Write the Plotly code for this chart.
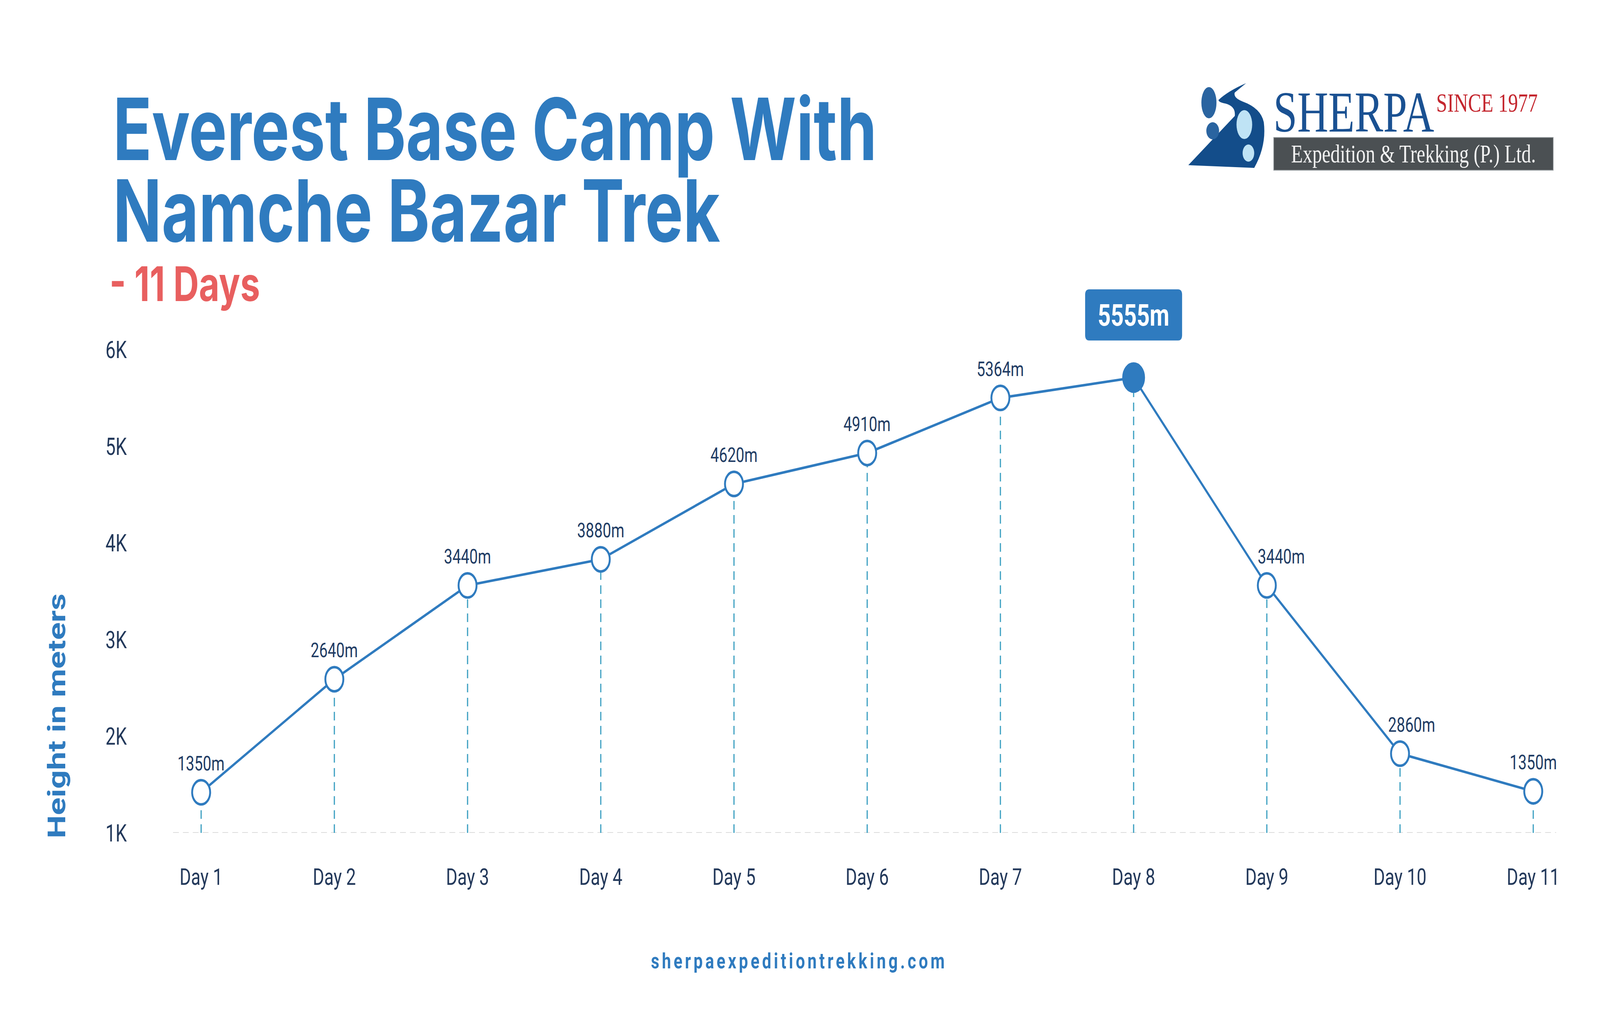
import plotly.graph_objects as go

# chart data
days = ["Day 1", "Day 2", "Day 3", "Day 4", "Day 5", "Day 6",
        "Day 7", "Day 8", "Day 9", "Day 10", "Day 11"]
heights = [1420, 2590, 3560, 3830, 4610, 4930, 5500, 5710, 3560, 1820, 1430]
height_labels = ["1350m", "2640m", "3440m", "3880m", "4620m", "4910m",
                 "5364m", "5555m", "3440m", "2860m", "1350m"]
y_ticks = [1000, 2000, 3000, 4000, 5000, 6000]
y_tick_labels = ["1K", "2K", "3K", "4K", "5K", "6K"]

BLUE = "#2f7bbf"
NAVY = "#1f3c64"
TICK = "#23395b"
DROP = "#3a9fc1"
LOGO_BLUE = "#134d8a"

# everything is laid out in the reference's pixels, then scaled to the window
W, H = 5511, 2584
L, R, T, B = 596, 151, 722, 451
Y_TOP = 6700   # a bit of room above 6K so the peak badge is not clipped


def fx(px):
    return (px - L) / (W - L - R)


def fy(py):
    return (H - B - py) / (H - T - B)


def paper_path(cmds):
    # cmds: list of (letter, [(x, y), ...]) in page pixels
    out = []
    for c, pts in cmds:
        s = c + " " + " ".join("{:.5f},{:.5f}".format(fx(x), fy(y)) for x, y in pts)
        out.append(s)
    return " ".join(out) + " Z"


xs = list(range(len(days)))
peak = heights.index(max(heights))

# dashed drop lines from the base of the axis up to each point
drop_x, drop_y = [], []
for x, h in zip(xs, heights):
    drop_x += [x, x, None]
    drop_y += [y_ticks[0], h, None]

traces = [
    go.Scatter(x=drop_x, y=drop_y, mode="lines", hoverinfo="skip",
               line=dict(color=DROP, width=4, dash="22px,14px")),
    go.Scatter(x=xs, y=heights, mode="lines+markers",
               line=dict(color=BLUE, width=6.5),
               marker=dict(size=[72 if i == peak else 62 for i in xs],
                           color=[BLUE if i == peak else "white" for i in xs],
                           opacity=1,
                           line=dict(color=BLUE, width=6.5))),
]

fig = go.Figure(data=traces)

annotations = []
label_shift = {8: 50, 9: 40}
for i, (x, h, lab) in enumerate(zip(xs, heights, height_labels)):
    if i == peak:
        annotations.append(dict(x=x, y=h, xref="x", yref="y", text="<b>" + lab + "</b>",
                                showarrow=False, yshift=160,
                                font=dict(family="Roboto", size=78, color="white")))
        continue
    annotations.append(dict(x=x, y=h, xref="x", yref="y", text=lab, showarrow=False,
                            yshift=74, xshift=label_shift.get(i, 0),
                            font=dict(family="Roboto", size=52, color=NAVY)))

# titles
annotations += [
    dict(x=fx(387), y=fy(330), xref="paper", yref="paper", xanchor="left", yanchor="middle",
         text="<b>Everest Base Camp With</b>", showarrow=False,
         font=dict(family="Inter", size=220, color=BLUE, weight=800)),
    dict(x=fx(387), y=fy(539), xref="paper", yref="paper", xanchor="left", yanchor="middle",
         text="<b>Namche Bazar Trek</b>", showarrow=False,
         font=dict(family="Inter", size=220, color=BLUE, weight=800)),
    dict(x=fx(375), y=fy(726), xref="paper", yref="paper", xanchor="left", yanchor="middle",
         text="<b>- 11 Days</b>", showarrow=False,
         font=dict(family="Inter", size=122, color="#e85f5f", weight=800)),
    dict(x=fx(196), y=fy(1834), xref="paper", yref="paper", xanchor="center", yanchor="middle",
         text="<b>Height in meters</b>", showarrow=False, textangle=-90,
         font=dict(family="Roboto", size=84, color=BLUE)),
    dict(x=fx(2752), y=fy(2461), xref="paper", yref="paper", xanchor="center", yanchor="middle",
         text="<span style='letter-spacing:9px'><b>sherpaexpeditiontrekking.com</b></span>",
         showarrow=False,
         font=dict(family="Roboto", size=56, color=BLUE)),
    # logo text
    dict(x=fx(4663), y=fy(287), xref="paper", yref="paper", xanchor="center", yanchor="middle",
         text="SHERPA", showarrow=False,
         font=dict(family="Liberation Serif", size=148, color="#1a5192")),
    dict(x=fx(5121), y=fy(263), xref="paper", yref="paper", xanchor="center", yanchor="middle",
         text="SINCE 1977", showarrow=False,
         font=dict(family="Liberation Serif", size=68, color="#c4262e")),
    dict(x=fx(4868), y=fy(394), xref="paper", yref="paper", xanchor="center", yanchor="middle",
         text="Expedition &amp; Trekking (P.) Ltd.", showarrow=False,
         font=dict(family="Liberation Serif", size=66, color="#f2f2f2")),
]

shapes = [
    # base line at 1K
    dict(type="line", xref="paper", yref="y", x0=0, x1=1, y0=y_ticks[0], y1=y_ticks[0],
         line=dict(color="#dcdcdc", width=4, dash="20px,14px"), layer="below"),
    # rounded box behind the peak label
    dict(type="path", xref="x", yref="y", xsizemode="pixel", ysizemode="pixel",
         xanchor=xs[peak], yanchor=heights[peak],
         path="M -153,95 L 153,95 Q 167,95 167,109 L 167,212 Q 167,226 153,226 "
              "L -153,226 Q -167,226 -167,212 L -167,109 Q -167,95 -153,95 Z",
         fillcolor=BLUE, line=dict(width=0)),
    # logo: grey band
    dict(type="rect", xref="paper", yref="paper", x0=fx(4387), x1=fx(5350), y0=fy(436), y1=fy(352),
         fillcolor="#4b5053", line=dict(color="#9aa0a3", width=2)),
    # logo: winding road
    dict(type="path", xref="paper", yref="paper",
         path=paper_path([("M", [(4292, 213)]),
                          ("Q", [(4230, 233), (4197, 256)]),
                          ("Q", [(4197, 262), (4220, 265)]),
                          ("Q", [(4257, 272), (4253, 297)]),
                          ("L", [(4093, 423)]),
                          ("L", [(4320, 430)]),
                          ("Q", [(4363, 373), (4353, 313)]),
                          ("Q", [(4343, 277), (4280, 260)]),
                          ("Q", [(4247, 250), (4253, 237)]),
                          ("L", [(4292, 213)])]),
         fillcolor=LOGO_BLUE, line=dict(width=0)),
]

# logo: footprints
for cx, cy, rx, ry, col in [(4164, 263, 26, 40, "#2a64a0"), (4177, 335, 22, 22, "#2a64a0"),
                            (4286, 319, 27, 37, "#bfe3f5"), (4300, 392, 20, 22, "#bfe3f5")]:
    shapes.append(dict(type="circle", xref="paper", yref="paper",
                       x0=fx(cx - rx), x1=fx(cx + rx), y0=fy(cy + ry), y1=fy(cy - ry),
                       fillcolor=col, line=dict(width=0)))

fig.update_layout(
    width=W, height=H,
    margin=dict(l=L, r=R, t=T, b=B, autoexpand=False),
    paper_bgcolor="white", plot_bgcolor="white",
    showlegend=False,
    xaxis=dict(range=[-0.211, 10.172], tickvals=xs, ticktext=days,
               showgrid=False, zeroline=False, showline=False, ticks="",
               ticklabelstandoff=72,
               tickfont=dict(family="Roboto", size=60, color=TICK)),
    yaxis=dict(range=[y_ticks[0], Y_TOP], tickvals=y_ticks, ticktext=y_tick_labels,
               showgrid=False, zeroline=False, showline=False, ticks="",
               ticklabelstandoff=158,
               tickfont=dict(family="Roboto", size=62, color=TICK)),
    annotations=annotations,
    shapes=shapes,
)

# the browser window may come out smaller than asked for: stretch the figure to fill it
fit_js = ("var gd = document.getElementById('{plot_id}');"
          "document.documentElement.style.overflow = 'hidden';"
          "document.body.style.margin = '0';"
          "document.body.style.overflow = 'hidden';"
          "gd.style.transformOrigin = '0 0';"
          "gd.style.transform = 'scale(' + (window.innerWidth / %d) + ','"
          " + (window.innerHeight / %d) + ')';" % (W, H))

fig.write_html("out.html", post_script=fit_js, config={"displayModeBar": False})
